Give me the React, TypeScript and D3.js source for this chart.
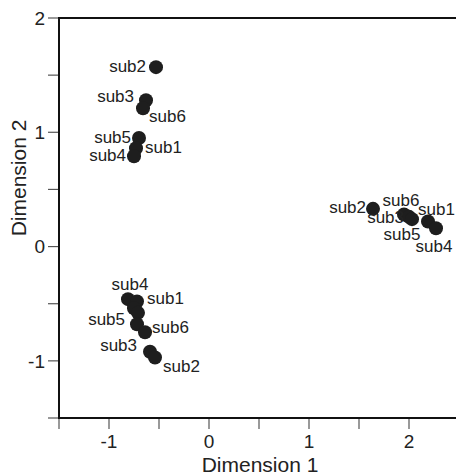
import React, { useEffect, useRef } from "react";
import * as d3 from "d3";

// MDS coordinates, three clusters of subjects
const clusterA = [
  { label: "sub2", x: -0.53, y: 1.57 },
  { label: "sub3", x: -0.63, y: 1.28 },
  { label: "sub6", x: -0.66, y: 1.21 },
  { label: "sub5", x: -0.7, y: 0.95 },
  { label: "sub1", x: -0.73, y: 0.86 },
  { label: "sub4", x: -0.75, y: 0.79 },
];

const clusterB = [
  { label: "sub2", x: 1.64, y: 0.33 },
  { label: "sub6", x: 1.95, y: 0.28 },
  { label: "sub3", x: 2.0, y: 0.26 },
  { label: "sub5", x: 2.03, y: 0.24 },
  { label: "sub1", x: 2.19, y: 0.22 },
  { label: "sub4", x: 2.27, y: 0.16 },
];

const clusterC = [
  { label: "sub4", x: -0.81, y: -0.46 },
  { label: "sub1", x: -0.72, y: -0.48 },
  { label: "sub5", x: -0.75, y: -0.54 },
  { label: null, x: -0.71, y: -0.58 },
  { label: "sub3", x: -0.72, y: -0.68 },
  { label: "sub6", x: -0.64, y: -0.75 },
  { label: "sub2", x: -0.59, y: -0.92 },
  { label: null, x: -0.54, y: -0.97 },
];

const xMajorTicks = [-1, 0, 1, 2];
const xMinorTicks = [-1.5, -0.5, 0.5, 1.5, 2.5];
const yMajorTicks = [-1, 0, 1, 2];
const yMinorTicks = [-1.5, -0.5, 0.5, 1.5];

// label placement (pixels from the dot centre), one list per cluster
const labelLayoutA = [
  { anchor: "end", dx: -10, dy: 5 },
  { anchor: "end", dx: -12, dy: 2 },
  { anchor: "start", dx: 6, dy: 14 },
  { anchor: "end", dx: -8, dy: 5 },
  { anchor: "start", dx: 9, dy: 5 },
  { anchor: "end", dx: -8, dy: 5 },
];
const labelLayoutB = [
  { anchor: "end", dx: -7, dy: 4 },
  { anchor: "middle", dx: -3, dy: -9 },
  { anchor: "end", dx: -5, dy: 6 },
  { anchor: "middle", dx: -10, dy: 21 },
  { anchor: "start", dx: -10, dy: -6 },
  { anchor: "middle", dx: -2, dy: 24 },
];
const labelLayoutC = [
  { anchor: "middle", dx: 2, dy: -9 },
  { anchor: "start", dx: 10, dy: 3 },
  { anchor: "end", dx: -9, dy: 17 },
  null,
  { anchor: "end", dx: 0, dy: 27 },
  { anchor: "start", dx: 7, dy: 1 },
  { anchor: "start", dx: 13, dy: 20 },
  null,
];

const width = 456;
const height = 475;
const marginLeft = 59;
const marginTop = 18;
const marginBottom = 57;
const font = "'Liberation Sans', Arial, Helvetica, sans-serif";
const ink = "#1e1e1e";

export default function App() {
  const svgRef = useRef<SVGSVGElement | null>(null);

  useEffect(() => {
    const svg = d3.select(svgRef.current);
    svg.selectAll("*").remove();

    const x = d3.scaleLinear().domain([-1.5, 2.5]).range([marginLeft, marginLeft + 400]);
    const y = d3
      .scaleLinear()
      .domain([-1.5, 2])
      .range([height - marginBottom, marginTop]);

    const x0 = x(-1.5);
    const yBottom = y(-1.5);

    // ticks
    const g = svg.append("g");
    g.selectAll(".xt")
      .data([...xMajorTicks, ...xMinorTicks])
      .enter()
      .append("line")
      .attr("x1", (d) => x(d))
      .attr("x2", (d) => x(d))
      .attr("y1", yBottom)
      .attr("y2", yBottom + 11)
      .attr("stroke", "#555")
      .attr("stroke-width", 1.2);
    g.selectAll(".yt")
      .data([...yMajorTicks, ...yMinorTicks])
      .enter()
      .append("line")
      .attr("x1", x0 - 11)
      .attr("x2", x0)
      .attr("y1", (d) => y(d))
      .attr("y2", (d) => y(d))
      .attr("stroke", "#555")
      .attr("stroke-width", 1.2);

    // frame: left, bottom and top lines
    g.append("path")
      .attr("d", `M${width + 5},${y(2)}H${x0}V${yBottom}H${width + 5}`)
      .attr("fill", "none")
      .attr("stroke", "#111")
      .attr("stroke-width", 2);

    // tick labels (plain hyphen minus like the original)
    g.selectAll(".xl")
      .data(xMajorTicks)
      .enter()
      .append("text")
      .attr("x", (d) => x(d))
      .attr("y", yBottom + 30)
      .attr("text-anchor", "middle")
      .attr("font-family", font)
      .attr("font-size", 19)
      .attr("fill", "#222")
      .text((d) => String(d));
    g.selectAll(".yl")
      .data(yMajorTicks)
      .enter()
      .append("text")
      .attr("x", x0 - 14)
      .attr("y", (d) => y(d))
      .attr("dy", "0.35em")
      .attr("text-anchor", "end")
      .attr("font-family", font)
      .attr("font-size", 19)
      .attr("fill", "#222")
      .text((d) => String(d));

    // axis titles
    g.append("text")
      .attr("x", 260)
      .attr("y", 472)
      .attr("text-anchor", "middle")
      .attr("font-family", font)
      .attr("font-size", 21)
      .attr("fill", "#222")
      .text("Dimension 1");
    g.append("text")
      .attr("transform", "translate(26,178) rotate(-90)")
      .attr("text-anchor", "middle")
      .attr("font-family", font)
      .attr("font-size", 21)
      .attr("fill", "#222")
      .text("Dimension 2");

    // points and labels
    const clusters = [
      { pts: clusterA, layout: labelLayoutA },
      { pts: clusterB, layout: labelLayoutB },
      { pts: clusterC, layout: labelLayoutC },
    ];
    clusters.forEach(({ pts, layout }) => {
      const c = svg.append("g");
      c.selectAll("circle")
        .data(pts)
        .enter()
        .append("circle")
        .attr("cx", (d) => x(d.x))
        .attr("cy", (d) => y(d.y))
        .attr("r", 7)
        .attr("fill", ink);
      c.selectAll("text")
        .data(pts.map((p, i) => ({ ...p, lay: layout[i] })).filter((p) => p.label && p.lay))
        .enter()
        .append("text")
        .attr("x", (d) => x(d.x) + d.lay!.dx)
        .attr("y", (d) => y(d.y) + d.lay!.dy)
        .attr("text-anchor", (d) => d.lay!.anchor)
        .attr("font-family", font)
        .attr("font-size", 17)
        .attr("fill", "#222")
        .text((d) => d.label as string);
    });
  }, []);

  return (
    <svg
      ref={svgRef}
      width={width}
      height={height}
      style={{ position: "absolute", left: 0, top: 0, background: "#fff" }}
    />
  );
}
